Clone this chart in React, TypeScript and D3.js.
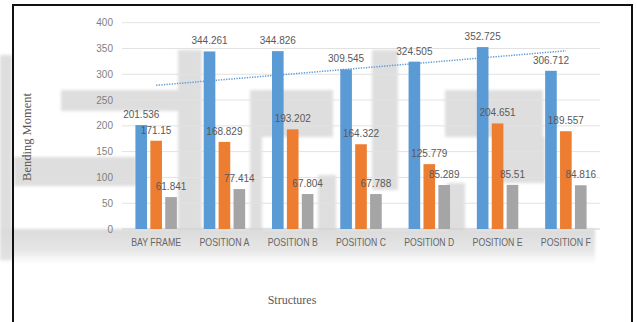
import React from "react";
import * as d3 from "d3";

const categories = ["BAY FRAME", "POSITION A", "POSITION B", "POSITION C", "POSITION D", "POSITION E", "POSITION F"];
const seriesNames = ["S1", "S2", "S3"];
const series1 = [201.536, 344.261, 344.826, 309.545, 324.505, 352.725, 306.712];
const series2 = [171.15, 168.829, 193.202, 164.322, 125.779, 204.651, 189.557];
const series3 = [61.841, 77.414, 67.804, 67.788, 85.289, 85.51, 84.816];
const yTicks = [0, 50, 100, 150, 200, 250, 300, 350, 400];
const colors = ["#5b9bd5", "#ed7d31", "#a5a5a5"];

// decorative background watermark blobs [x, y, w, h]
const blobs: [number, number, number, number][] = [
  [0, 55, 12, 205],
  [61, 90, 140, 21],
  [14, 157, 122, 29],
  [178, 50, 24, 180],
  [250, 90, 83, 47],
  [250, 137, 12, 92],
  [318, 175, 18, 54],
  [372, 50, 26, 140],
  [445, 90, 98, 47],
  [500, 137, 45, 46],
  [447, 183, 18, 48],
];

export default function App() {
  const W = 637, H = 322;
  const x0 = d3.scaleBand<string>().domain(categories).range([122, 600]).paddingInner(0.345).paddingOuter(0.1725);
  const x1 = d3.scaleBand<string>().domain(seriesNames).range([0, x0.bandwidth()]).paddingInner(0.22).paddingOuter(0.11);
  const y = d3.scaleLinear().domain([0, 400]).range([229, 22.7]);
  const data = [series1, series2, series3];

  // linear trendline for series 1
  const n = series1.length;
  const xs = d3.range(1, n + 1);
  const mx = d3.mean(xs)!;
  const my = d3.mean(series1)!;
  const slope = d3.sum(xs.map((xv, i) => (xv - mx) * (series1[i] - my))) / d3.sum(xs.map((xv) => (xv - mx) ** 2));
  const icpt = my - slope * mx;
  const cx = (c: string) => x0(c)! + x0.bandwidth() / 2;
  const trend = d3.line<number>()
    .x((_, i) => cx(categories[i]))
    .y((_, i) => y(icpt + slope * (i + 1)));

  const sans = "'Liberation Sans', Arial, sans-serif";
  const serif = "'Liberation Serif', 'Times New Roman', serif";

  return (
    <svg width={W} height={H} style={{ position: "absolute", left: 0, top: 0, background: "#fff" }}>
      <defs>
        <filter id="blur" x="-20%" y="-20%" width="140%" height="140%">
          <feGaussianBlur stdDeviation="1.6" />
        </filter>
        <linearGradient id="fade" x1="0" y1="0" x2="0" y2="1">
          <stop offset="0" stopColor="#dadada" stopOpacity="1" />
          <stop offset="0.6" stopColor="#e0e0e0" stopOpacity="0.8" />
          <stop offset="1" stopColor="#ececec" stopOpacity="0" />
        </linearGradient>
      </defs>
      <g filter="url(#blur)">
        {blobs.map((b, i) => (
          <rect key={i} x={b[0]} y={b[1]} width={b[2]} height={b[3]} fill="#dedede" />
        ))}
        <rect x={0} y={229} width={595} height={36} fill="url(#fade)" />
      </g>
      {/* border */}
      <rect x={13} y={5} width={619} height={340} fill="none" stroke="#111" strokeWidth={2} />
      {/* gridlines */}
      {yTicks.map((t) => (
        <line key={t} x1={122} x2={600} y1={y(t)} y2={y(t)} stroke={t === 0 ? "#d0d0d0" : "#e2e2e2"} strokeWidth={1} />
      ))}
      {yTicks.map((t) => (
        <text key={"l" + t} x={113} y={y(t)} dy="0.35em" textAnchor="end" fontFamily={sans} fontSize={10} fill="#7f7f7f">
          {t}
        </text>
      ))}
      {/* bars */}
      {categories.map((c, ci) => (
        <g key={c} transform={`translate(${x0(c)},0)`}>
          {data.map((s, si) => (
            <rect
              key={si}
              x={x1(seriesNames[si])}
              y={y(s[ci])}
              width={x1.bandwidth()}
              height={y(0) - y(s[ci])}
              fill={colors[si]}
            />
          ))}
        </g>
      ))}
      {/* trendline */}
      <path d={trend(series1)!} fill="none" stroke="#5b9bd5" strokeWidth={1.5} strokeDasharray="1.3 1.3" />
      {/* labels */}
      {categories.map((c, ci) => (
        <g key={"v" + c} transform={`translate(${x0(c)},0)`}>
          {data.map((s, si) => (
            <text
              key={si}
              x={x1(seriesNames[si])! + x1.bandwidth() / 2}
              y={y(s[ci]) - 7}
              textAnchor="middle"
              fontFamily={sans}
              fontSize={10}
              fill="#595959"
            >
              {s[ci]}
            </text>
          ))}
        </g>
      ))}
      {categories.map((c) => (
        <text key={"c" + c} x={cx(c)} y={246} textAnchor="middle" fontFamily={sans} fontSize={10.5} fill="#666" textLength={50} lengthAdjust="spacingAndGlyphs">
          {c}
        </text>
      ))}
      <text x={292} y={304} textAnchor="middle" fontFamily={serif} fontSize={12} fill="#595959">
        Structures
      </text>
      <text transform="translate(31,137) rotate(-90)" textAnchor="middle" fontFamily={serif} fontSize={12.5} fill="#595959">
        Bending Moment
      </text>
    </svg>
  );
}
